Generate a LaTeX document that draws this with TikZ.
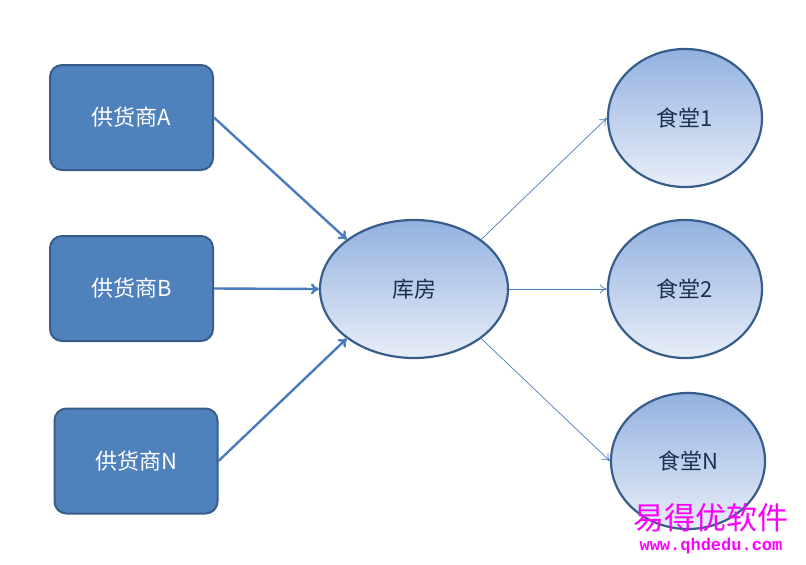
\documentclass[tikz,border=0pt]{standalone}
\usepackage{fontspec}
\setmainfont{Noto Sans CJK SC}
\setmonofont{Liberation Mono}
\usetikzlibrary{shapes.geometric,arrows.meta}
\definecolor{boxfill}{HTML}{4F81BD}
\definecolor{boxline}{HTML}{385D8A}
\definecolor{topc}{HTML}{93B1E0}
\definecolor{botc}{HTML}{E8EEF8}
\definecolor{txt}{HTML}{1F2F4F}
\definecolor{arr}{HTML}{4A7BBD}
\definecolor{mag}{HTML}{FF00FF}
\begin{document}
\begin{tikzpicture}[x=1pt,y=-1pt,
 sup/.style={draw=boxline,line width=2pt,fill=boxfill,rounded corners=12pt,minimum width=163pt,minimum height=105pt,text=white,font=\fontsize{22}{24}\selectfont},
 ell/.style={ellipse,draw=boxline,line width=2.2pt,top color=topc,bottom color=botc,text=txt,font=\fontsize{22}{24}\selectfont},
 thick arr/.style={arr,line width=2.4pt,-{To[length=8pt,width=11pt]}},
 thin arr/.style={arr,line width=0.7pt,-{To[length=7pt,width=9pt]}}]
\useasboundingbox (0,0) rectangle (806,565);
\node[sup] (A) at (131.5,117.5) {供货商A};
\node[sup] (B) at (131.5,288.5) {供货商B};
\node[sup] (N) at (136,461) {供货商N};
\node[ell,minimum width=188pt,minimum height=138pt] (K) at (414,289) {库房};
\node[ell,minimum width=154pt,minimum height=138pt] (C1) at (685,118) {食堂1};
\node[ell,minimum width=154pt,minimum height=138pt] (C2) at (685,289) {食堂2};
\node[ell,minimum width=154pt,minimum height=136pt] (C3) at (688,461) {食堂N};
\draw[thick arr] (A.east) -- (K.north west);
\draw[thick arr] (B.east) -- (K.west);
\draw[thick arr] (N.east) -- (K.south west);
\draw[thin arr] (K.north east) -- (C1.west);
\draw[thin arr] (K.east) -- (C2.west);
\draw[thin arr] (K.south east) -- (C3.west);
\node[text=mag,font=\fontsize{31}{33}\selectfont,inner sep=0] (W1) at (711,518) {易得优软件};
\node[text=mag,font=\ttfamily\bfseries\fontsize{17}{18}\selectfont,inner sep=0] (W2) at (711,546) {www.qhdedu.com};
\end{tikzpicture}
\end{document}
